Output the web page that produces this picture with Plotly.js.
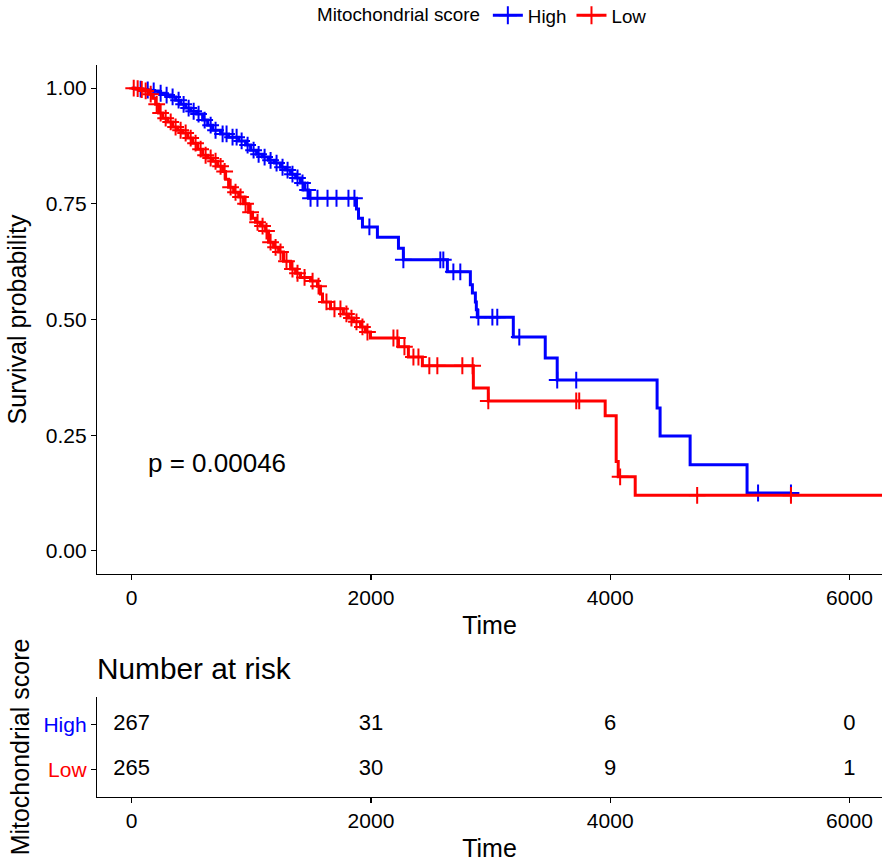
<!DOCTYPE html>
<html>
<head>
<meta charset="utf-8">
<script src="https://cdn.plot.ly/plotly-3.0.1.min.js"></script>
<style>
  html, body { margin: 0; padding: 0; background: #ffffff; }
  #chart { width: 892px; height: 867px; }
</style>
</head>
<body>
<div id="chart"></div>
<script>
// Kaplan-Meier estimates by mitochondrial score group (time in days)
const groupNames = ['High', 'Low'];
const groupColors = ['#0000FF', '#FF0000'];

// High group: event times and survival right after each event
const highTimes = [42, 92, 159, 225, 284, 326, 367, 409, 451, 493, 543, 593, 635, 676, 743, 810, 894, 952, 994, 1044,
  1094, 1144, 1194, 1244, 1286, 1328, 1370, 1411, 1445, 1478, 1879, 1896, 1929, 2054, 2230, 2271, 2639, 2831, 2848, 2873,
  2881, 2889, 3190, 3457, 3557, 4392, 4417, 4668, 5144];
const highSurv = [0.998, 0.996, 0.994, 0.989, 0.985, 0.981, 0.974, 0.965, 0.957, 0.950, 0.944, 0.931, 0.920, 0.909, 0.901,
  0.894, 0.886, 0.877, 0.866, 0.857, 0.851, 0.844, 0.838, 0.829, 0.823, 0.814, 0.806, 0.795, 0.780, 0.762, 0.739, 0.719,
  0.700, 0.678, 0.654, 0.629, 0.603, 0.575, 0.557, 0.538, 0.521, 0.505, 0.462, 0.417, 0.369, 0.309, 0.248, 0.186, 0.125];
// High group: censoring times
const highCensor = [75, 134, 184, 242, 292, 342, 392, 434, 476, 518, 559, 610, 660, 701, 760, 793, 843, 877, 919, 969,
  1019, 1061, 1111, 1161, 1211, 1261, 1303, 1344, 1386, 1428, 1470, 1495, 1553, 1637, 1712, 1812, 1862, 1987, 2271, 2580,
  2605, 2689, 2747, 2898, 3015, 3056, 3240, 3557, 3716, 5236, 5511];
const highFollowUp = 5511;

// Low group: event times and survival right after each event
const lowTimes = [25, 58, 100, 142, 175, 200, 225, 259, 301, 342, 384, 426, 468, 509, 551, 593, 635, 676, 718, 760,
  785, 810, 852, 894, 935, 977, 1010, 1035, 1077, 1119, 1144, 1186, 1228, 1269, 1328, 1370, 1411, 1495, 1553, 1578,
  1595, 1662, 1770, 1812, 1854, 1913, 1954, 1996, 2230, 2313, 2430, 2856, 2981, 3958, 4050, 4067, 4209];
const lowSurv = [0.999, 0.997, 0.994, 0.987, 0.978, 0.965, 0.946, 0.935, 0.927, 0.916, 0.909, 0.903, 0.892, 0.881, 0.868,
  0.855, 0.849, 0.842, 0.831, 0.820, 0.803, 0.786, 0.775, 0.765, 0.750, 0.732, 0.719, 0.710, 0.702, 0.691, 0.667, 0.656,
  0.646, 0.626, 0.609, 0.600, 0.591, 0.583, 0.572, 0.555, 0.538, 0.523, 0.512, 0.503, 0.495, 0.484, 0.473, 0.460, 0.441,
  0.419, 0.400, 0.352, 0.324, 0.292, 0.193, 0.160, 0.120];
// Low group: censoring times
const lowCensor = [17, 50, 84, 117, 159, 209, 242, 284, 326, 367, 409, 451, 493, 534, 576, 618, 660, 701, 743, 777,
  827, 868, 910, 952, 994, 1052, 1094, 1127, 1161, 1203, 1244, 1294, 1344, 1386, 1445, 1512, 1562, 1628, 1695, 1745,
  1795, 1837, 1879, 1929, 1971, 2188, 2221, 2280, 2355, 2397, 2488, 2555, 2764, 2850, 2981, 3716, 3741, 4083, 4727, 5511];
const lowFollowUp = 6350;

// Log-rank test
const pValueText = 'p = 0.00046';

// Number at risk table
const riskTimes = [0, 2000, 4000, 6000];
const riskHigh = [267, 31, 6, 0];
const riskLow = [265, 30, 9, 1];

// Axis ticks
const timeTicks = [0, 2000, 4000, 6000];
const survTicks = [0, 0.25, 0.5, 0.75, 1];
const survTickText = ['0.00', '0.25', '0.50', '0.75', '1.00'];

const FONT = '"Liberation Sans", Arial, sans-serif';

// survival level at time t for a step curve
function survAt(times, surv, t) {
  let s = 1;
  for (let i = 0; i < times.length; i++) {
    if (times[i] <= t) s = surv[i]; else break;
  }
  return s;
}

function curveTraces(times, surv, censor, followUp, color, name) {
  const xs = [0].concat(times, [followUp]);
  const ys = [1].concat(surv, [surv[surv.length - 1]]);
  return [
    {
      x: xs, y: ys, type: 'scatter', mode: 'lines',
      line: { shape: 'hv', color: color, width: 3 },
      showlegend: false, hoverinfo: 'skip', xaxis: 'x', yaxis: 'y'
    },
    {
      x: censor, y: censor.map(t => survAt(times, surv, t)),
      type: 'scatter', mode: 'markers',
      marker: { symbol: 'cross-thin', size: 12, line: { color: color, width: 2 } },
      showlegend: false, hoverinfo: 'skip', xaxis: 'x', yaxis: 'y'
    },
    {
      x: [null], y: [null], type: 'scatter', mode: 'lines+markers', name: name,
      line: { color: color, width: 3 },
      marker: { symbol: 'cross-thin', size: 13, line: { color: color, width: 2 } },
      xaxis: 'x', yaxis: 'y'
    }
  ];
}

const traces = []
  .concat(curveTraces(highTimes, highSurv, highCensor, highFollowUp, groupColors[0], groupNames[0]))
  .concat(curveTraces(lowTimes, lowSurv, lowCensor, lowFollowUp, groupColors[1], groupNames[1]));

// Risk table rows: High on top, Low below
const riskRowY = [2, 1];
[riskHigh, riskLow].forEach((vals, i) => {
  traces.push({
    x: riskTimes, y: riskTimes.map(() => riskRowY[i]),
    text: vals.map(String), type: 'scatter', mode: 'text',
    textposition: 'middle center',
    textfont: { family: FONT, size: 22, color: '#000000' },
    showlegend: false, hoverinfo: 'skip', xaxis: 'x2', yaxis: 'y2'
  });
});

const W = 892, H = 867;
const px = v => v / W;
const py = v => 1 - v / H;
const xDomain = [px(97), px(882)];

const axisCommon = {
  showline: true, linecolor: '#000000', linewidth: 1.2,
  ticks: 'outside', ticklen: 5, tickwidth: 1.2, tickcolor: '#000000',
  showgrid: false, zeroline: false, automargin: false,
  tickfont: { family: FONT, size: 21, color: '#000000' }
};

const layout = {
  width: W, height: H,
  margin: { l: 0, r: 0, t: 0, b: 0, autoexpand: false },
  paper_bgcolor: '#ffffff', plot_bgcolor: '#ffffff',
  font: { family: FONT, color: '#000000' },
  showlegend: true,
  legend: {
    orientation: 'h', x: px(315), xanchor: 'left', y: 1.004, yanchor: 'top',
    title: { text: 'Mitochondrial score', side: 'left', font: { family: FONT, size: 18.8 } },
    font: { family: FONT, size: 18.8, color: '#000000' },
    itemwidth: 30, tracegroupgap: 0
  },
  xaxis: Object.assign({}, axisCommon, {
    domain: xDomain, range: [-290, 6272], anchor: 'y',
    tickvals: timeTicks, ticktext: timeTicks.map(String),
    title: { text: 'Time', font: { family: FONT, size: 25 }, standoff: 8 }
  }),
  yaxis: Object.assign({}, axisCommon, {
    domain: [py(574), py(65)], range: [-0.05, 1.05], anchor: 'x',
    tickvals: survTicks, ticktext: survTickText,
    title: { text: 'Survival probability', font: { family: FONT, size: 25 }, standoff: 12 }
  }),
  xaxis2: Object.assign({}, axisCommon, {
    domain: xDomain, range: [-290, 6272], anchor: 'y2',
    tickvals: timeTicks, ticktext: timeTicks.map(String),
    title: { text: 'Time', font: { family: FONT, size: 25 }, standoff: 8 }
  }),
  yaxis2: Object.assign({}, axisCommon, {
    domain: [py(797), py(697)], range: [0.4, 2.6], anchor: 'x2',
    tickvals: riskRowY,
    ticktext: groupNames.map((n, i) => '<span style="color:' + groupColors[i] + '">' + n + '</span>'),
    tickfont: { family: FONT, size: 21 },
    title: { text: 'Mitochondrial score', font: { family: FONT, size: 25 }, standoff: 6 }
  }),
  annotations: [
    {
      x: 120, y: 0.19, xref: 'x', yref: 'y', text: pValueText, showarrow: false,
      xanchor: 'left', yanchor: 'middle', font: { family: FONT, size: 26, color: '#000000' }
    },
    {
      x: px(95), y: py(668), xref: 'paper', yref: 'paper', text: 'Number at risk', showarrow: false,
      xanchor: 'left', yanchor: 'middle', font: { family: FONT, size: 29.8, color: '#000000' }
    }
  ]
};

Plotly.newPlot('chart', traces, layout, { displayModeBar: false, staticPlot: true });
</script>
</body>
</html>
